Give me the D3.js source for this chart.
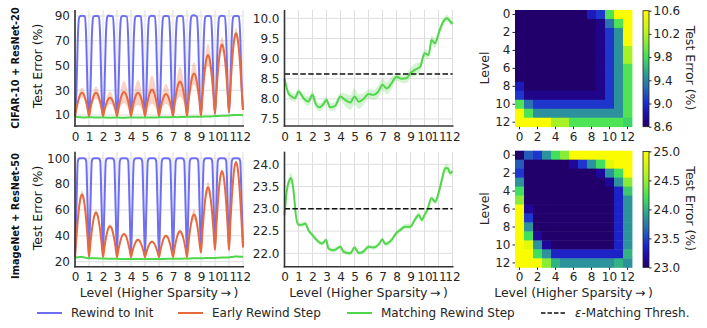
<!DOCTYPE html>
<html>
<head>
<meta charset="utf-8">
<script src="https://cdn.jsdelivr.net/npm/d3@7"></script>
<style>
body { margin: 0; background: #fff; }
text { font-family: "DejaVu Sans", sans-serif; }
</style>
</head>
<body>
<svg id="chart" width="707" height="328"></svg>
<script>
// ---- data ----
var levelTicks = [0, 1, 2, 3, 4, 5, 6, 7, 8, 9, 10, 11, 12];
var heatTicks = [0, 2, 4, 6, 8, 10, 12];

// left column: error along the path between consecutive levels,
// one row per level (alpha = 0, .1, ... .9), the End value closes level 12
var cifarInit = [
	[9, 28, 72, 89, 90, 90.2, 90, 89.5, 72, 28],
	[9, 28, 72, 89, 90, 90, 90, 89.5, 72, 28],
	[9, 28, 72, 89, 90.3, 90, 90, 89.5, 72, 28],
	[9, 28, 72, 89, 90, 90, 89.8, 89.5, 72, 28],
	[9, 28, 72, 89, 90, 90, 90, 89.5, 72, 28],
	[9, 28, 72, 89, 90, 90.2, 90, 89.5, 72, 28],
	[9, 28, 72, 89, 90, 90, 90, 89.5, 72, 28],
	[9, 28, 72, 89, 90, 90, 90, 89.5, 72, 28],
	[9.5, 28, 72, 89, 90.4, 90.6, 90.2, 89.5, 72, 28],
	[10, 30, 72, 89, 90, 90, 90, 89.5, 72, 30],
	[11, 32, 73, 89, 90, 90.2, 90, 89.5, 73, 32],
	[12, 33, 74, 89, 90, 90, 90, 89.5, 74, 34]
];
var cifarInitEnd = 14;

var cifarEarly = [
	[9, 14.9, 20.2, 24.4, 27.1, 28, 27.1, 24.4, 20.2, 14.9],
	[9, 14.9, 20.2, 24.4, 27.1, 28, 27.1, 24.4, 20.2, 14.9],
	[9, 13.7, 17.9, 21.2, 23.3, 24, 23.3, 21.2, 17.9, 13.7],
	[9, 15, 20.5, 24.8, 27.5, 28.5, 27.5, 24.8, 20.5, 15],
	[9, 14.9, 20.2, 24.4, 27.1, 28, 27.1, 24.4, 20.2, 14.9],
	[9, 15.7, 21.7, 26.4, 29.4, 30.5, 29.4, 26.4, 21.7, 15.7],
	[9, 14.6, 19.6, 23.6, 26.1, 27, 26.1, 23.6, 19.6, 14.6],
	[9, 17.7, 25.5, 31.7, 35.6, 37, 35.6, 31.7, 25.5, 17.7],
	[9, 19.7, 29.4, 36.9, 41.8, 43.5, 41.8, 36.9, 29.4, 19.7],
	[9, 24.3, 38.2, 49.1, 56, 58.5, 56, 49.1, 38.2, 24.3],
	[11, 28.4, 44, 56.4, 64.2, 67, 64.2, 56.4, 44, 28.4],
	[12, 31.8, 49.8, 63.8, 72.8, 76, 72.8, 63.8, 49.8, 31.8]
];
var cifarEarlyEnd = 14;
var cifarEarlySpread = [4, 5, 5, 9, 10, 11.5, 8, 12, 9, 9, 6, 4.5];

var imagenetInit = [
	[24, 62, 98, 99.8, 100, 100, 100, 99.8, 98, 62],
	[28, 62, 98, 99.8, 100, 100, 100, 99.8, 98, 62],
	[26, 62, 98, 99.8, 100, 100, 100, 99.8, 98, 62],
	[24.5, 62, 98, 99.8, 100, 100, 100, 99.8, 98, 62],
	[25, 62, 98, 99.8, 100, 100, 100, 99.8, 98, 62],
	[25, 62, 98, 99.8, 100, 100, 100, 99.8, 98, 62],
	[25, 62, 98, 99.8, 100, 100, 100, 99.8, 98, 62],
	[25, 62, 98, 99.8, 100, 100, 100, 99.8, 98, 62],
	[26, 62, 98, 99.8, 100, 100, 100, 99.8, 98, 62],
	[28, 64, 98, 99.8, 100, 100, 100, 99.8, 98, 64],
	[30, 65, 98, 99.8, 100, 100, 100, 99.8, 98, 65],
	[30, 66, 98, 99.8, 100, 100, 100, 99.8, 98, 66]
];
var imagenetInitEnd = 33;

var imagenetEarly = [
	[23.5, 38.5, 52.1, 62.8, 69.6, 72, 69.6, 62.8, 52.1, 38.5],
	[23.5, 34.2, 43.9, 51.4, 56.3, 58, 56.3, 51.4, 43.9, 34.2],
	[23.5, 30.9, 37.7, 42.9, 46.3, 47.5, 46.3, 42.9, 37.7, 30.9],
	[23.5, 29.1, 34.1, 38.1, 40.6, 41.5, 40.6, 38.1, 34.1, 29.1],
	[23.5, 27.7, 31.5, 34.4, 36.3, 37, 36.3, 34.4, 31.5, 27.7],
	[23.5, 27.2, 30.6, 33.2, 34.9, 35.5, 34.9, 33.2, 30.6, 27.2],
	[23.5, 28.6, 33.2, 36.9, 39.2, 40, 39.2, 36.9, 33.2, 28.6],
	[23.5, 29.7, 35.3, 39.7, 42.5, 43.5, 42.5, 39.7, 35.3, 29.7],
	[23.5, 33.7, 43, 50.2, 54.9, 56.5, 54.9, 50.2, 43, 33.7],
	[27, 42.7, 56.8, 67.9, 75, 77.5, 75, 67.9, 56.8, 42.7],
	[29, 47.9, 65, 78.4, 87, 90, 87, 78.4, 65, 47.9],
	[29, 50.1, 69.1, 84.1, 93.6, 97, 93.6, 84.1, 69.1, 50.1]
];
var imagenetEarlyEnd = 31;
var imagenetEarlySpread = [3, 2, 1.5, 1, 1, 1, 1, 1.5, 4, 4.5, 1.5, 1.5];

// middle column: matching rewind step (also drawn in the left column)
var cifarMatchX = [0, 0.28, 0.5, 0.75, 1, 1.35, 1.7, 2, 2.2, 2.5, 2.9, 3, 3.25, 3.6, 4, 4.3, 4.7, 5, 5.3, 5.6,
	6, 6.35, 6.7, 7, 7.3, 7.65, 8, 8.35, 8.7, 9, 9.3, 9.7, 10, 10.3, 10.5, 10.75, 11.05, 11.35, 11.6, 11.75, 12];
var cifarMatchY = [8.51, 8.14, 8.06, 8.02, 8.18, 8.02, 7.93, 8.1, 7.9, 7.79, 7.93, 7.98, 7.79, 7.82, 8.06, 7.98, 7.91, 8.06, 7.93, 7.98,
	8.12, 8.1, 8.18, 8.35, 8.26, 8.39, 8.55, 8.5, 8.51, 8.64, 8.72, 8.8, 9.13, 9.09, 9.46, 9.38, 9.67, 9.92, 10.0, 9.96, 9.86];
var cifarMatchSpread = [0.05, 0.08, 0.1, 0.1, 0.08, 0.1, 0.12, 0.1, 0.12, 0.1, 0.1, 0.08, 0.1, 0.1, 0.1, 0.15, 0.18, 0.2, 0.18, 0.15,
	0.12, 0.12, 0.15, 0.15, 0.15, 0.15, 0.1, 0.1, 0.12, 0.12, 0.15, 0.12, 0.1, 0.1, 0.12, 0.12, 0.1, 0.08, 0.08, 0.08, 0.06];
var cifarThresh = 8.62;

var imagenetMatchX = [0, 0.17, 0.36, 0.48, 0.64, 0.83, 1, 1.24, 1.48, 1.71, 2, 2.3, 2.67, 2.98, 3.14, 3.5, 4, 4.2, 4.7, 5,
	5.3, 5.64, 6, 6.36, 6.7, 7, 7.2, 7.67, 8, 8.26, 8.6, 9, 9.3, 9.6, 9.8, 10, 10.2, 10.5, 10.76, 11, 11.24, 11.48, 11.67, 11.83, 12];
var imagenetMatchY = [22.86, 23.42, 23.65, 23.69, 23.42, 22.82, 22.64, 22.64, 22.67, 22.52, 22.41, 22.3, 22.22, 22.3, 22.11, 22.07, 22.15, 22.04, 22.0, 22.13,
	22.01, 22.04, 22.15, 22.13, 22.19, 22.31, 22.21, 22.31, 22.46, 22.52, 22.6, 22.6, 22.75, 22.86, 22.75, 22.86, 22.97, 23.24, 23.16, 23.35, 23.65, 23.91, 23.91, 23.8, 23.84];
var imagenetMatchSpread = [0.05, 0.08, 0.12, 0.12, 0.1, 0.06, 0.05, 0.05, 0.05, 0.05, 0.05, 0.05, 0.05, 0.05, 0.05, 0.05, 0.05, 0.05, 0.05, 0.05,
	0.05, 0.05, 0.05, 0.05, 0.05, 0.05, 0.05, 0.06, 0.06, 0.06, 0.06, 0.06, 0.06, 0.08, 0.06, 0.06, 0.06, 0.06, 0.06, 0.08, 0.08, 0.1, 0.1, 0.08, 0.06];
var imagenetThresh = 23.0;

// right column: test error between levels (row level x column level)
var cifarHeat = [
	[8.6, 8.6, 8.6, 8.6, 8.6, 8.6, 8.6, 8.6, 8.9, 9.05, 9.85, 10.6, 10.6],
	[8.6, 8.6, 8.6, 8.6, 8.6, 8.6, 8.6, 8.6, 8.6, 8.7, 9.3, 9.85, 10.6],
	[8.6, 8.6, 8.6, 8.6, 8.6, 8.6, 8.6, 8.6, 8.6, 8.7, 9.05, 9.45, 10.6],
	[8.6, 8.6, 8.6, 8.6, 8.6, 8.6, 8.6, 8.6, 8.6, 8.7, 9.05, 9.45, 10.6],
	[8.6, 8.6, 8.6, 8.6, 8.6, 8.6, 8.6, 8.6, 8.6, 8.7, 9.05, 9.45, 10.15],
	[8.6, 8.6, 8.6, 8.6, 8.6, 8.6, 8.6, 8.6, 8.6, 8.7, 9.05, 9.45, 10.15],
	[8.6, 8.6, 8.6, 8.6, 8.6, 8.6, 8.6, 8.6, 8.6, 8.7, 9.05, 9.45, 9.85],
	[8.6, 8.6, 8.6, 8.6, 8.6, 8.6, 8.6, 8.6, 8.6, 8.7, 9.05, 9.45, 9.85],
	[8.9, 8.6, 8.6, 8.6, 8.6, 8.6, 8.6, 8.6, 8.6, 8.7, 9.05, 9.45, 9.85],
	[9.05, 8.7, 8.7, 8.7, 8.7, 8.7, 8.7, 8.7, 8.7, 8.7, 9.05, 9.45, 9.85],
	[9.85, 9.3, 9.05, 9.05, 9.05, 9.05, 9.05, 9.05, 9.05, 9.05, 9.05, 9.45, 9.85],
	[10.6, 9.85, 9.45, 9.45, 9.45, 9.45, 9.45, 9.45, 9.45, 9.45, 9.45, 9.45, 9.85],
	[10.6, 10.6, 10.6, 10.6, 10.15, 10.15, 9.85, 9.85, 9.85, 9.85, 9.85, 9.85, 9.75]
];
var cifarHeatDomain = [8.6, 10.6];
var cifarBarTicks = [8.6, 9.0, 9.4, 9.8, 10.2, 10.6];

var imagenetHeat = [
	[23, 23.6, 23.45, 23.85, 24.2, 24.45, 25, 25, 25, 25, 25, 25, 25],
	[23.6, 23, 23, 23, 23, 23, 23.15, 23.45, 23.85, 24.2, 24.85, 25, 25],
	[23.45, 23, 23, 23, 23, 23, 23, 23, 23, 23.15, 23.85, 24.2, 25],
	[23.85, 23, 23, 23, 23, 23, 23, 23, 23, 23, 23.15, 23.85, 24.45],
	[24.2, 23, 23, 23, 23, 23, 23, 23, 23, 23, 23, 23.35, 24.1],
	[24.45, 23, 23, 23, 23, 23, 23, 23, 23, 23, 23, 23.35, 23.85],
	[25, 23.15, 23, 23, 23, 23, 23, 23, 23, 23, 23, 23.35, 23.85],
	[25, 23.45, 23, 23, 23, 23, 23, 23, 23, 23, 23, 23.35, 23.85],
	[25, 23.85, 23, 23, 23, 23, 23, 23, 23, 23, 23, 23.35, 23.85],
	[25, 24.2, 23.15, 23, 23, 23, 23, 23, 23, 23, 23, 23.35, 23.85],
	[25, 24.85, 23.85, 23.15, 23, 23, 23, 23, 23, 23, 23, 23.35, 23.85],
	[25, 25, 24.2, 23.85, 23.35, 23.35, 23.35, 23.35, 23.35, 23.35, 23.35, 23.35, 24.0],
	[25, 25, 25, 24.45, 24.0, 23.85, 23.85, 23.85, 23.85, 23.85, 23.85, 24.0, 23.85]
];
var imagenetHeatDomain = [23, 25];
var imagenetBarTicks = [23.0, 23.5, 24.0, 24.5, 25.0];

// colour map of the heatmaps (position in domain -> colour)
var cmapStops = [0, 0.1, 0.2, 0.35, 0.45, 0.6, 0.8, 1];
var cmapColors = ["#22006b", "#1e0aa8", "#1c2ad0", "#2a72b0", "#2d9c95", "#40e05e", "#b6f41e", "#fcfc00"];

var legendNames = ["Rewind to Init", "Early Rewind Step", "Matching Rewind Step"];

// ---- drawing ----
var colInit = "#6f6ff2", colEarly = "#e8693d", colMatch = "#4fd64a";
var svg = d3.select("#chart");
var rowBox = [{top: 10, bottom: 126}, {top: 151.7, bottom: 266.7}];
var leftX = d3.scaleLinear().domain([0, 12]).range([75, 243]);
var midX = d3.scaleLinear().domain([0, 12]).range([284.5, 452.5]);

function segPoints(rows, end, spread) {
	var pts = [];
	rows.forEach(function(row, k) {
		var lo = d3.min(row), hi = d3.max(row);
		row.forEach(function(v, i) {
			var hw = spread ? spread[k] * (v - lo) / (hi - lo) : 0;
			pts.push({x: k + i / 10, y: v, lo: v - hw, hi: v + hw});
		});
	});
	pts.push({x: rows.length, y: end, lo: end, hi: end});
	return pts;
}

function xyPoints(xs, ys, spread) {
	return xs.map(function(x, i) {
		return {x: x, y: ys[i], lo: ys[i] - spread[i], hi: ys[i] + spread[i]};
	});
}

function styleAxis(g) {
	g.attr("font-size", 12).attr("font-family", "DejaVu Sans, sans-serif").style("color", "#262626");
	g.select(".domain").remove();
}

function panel(x, box, domain, yTicks, fmt, showX) {
	var y = d3.scaleLinear().domain(domain).range([box.bottom, box.top]);
	var g = svg.append("g");
	g.selectAll(".vg").data(levelTicks).enter().append("line")
		.attr("x1", function(d) { return x(d); }).attr("x2", function(d) { return x(d); })
		.attr("y1", box.top).attr("y2", box.bottom)
		.attr("stroke", "#dedede").attr("stroke-width", 1);
	g.selectAll(".hg").data(yTicks).enter().append("line")
		.attr("x1", x(0)).attr("x2", x(12))
		.attr("y1", function(d) { return y(d); }).attr("y2", function(d) { return y(d); })
		.attr("stroke", "#dedede").attr("stroke-width", 1);
	svg.append("g").attr("transform", "translate(" + x(0) + ",0)")
		.call(d3.axisLeft(y).tickValues(yTicks).tickSize(0).tickPadding(5).tickFormat(fmt))
		.call(styleAxis);
	svg.append("g").attr("transform", "translate(0," + box.bottom + ")")
		.call(d3.axisBottom(x).tickValues(levelTicks).tickSize(0).tickPadding(6))
		.call(styleAxis);
	return y;
}

function frame(x, box) {
	svg.append("line").attr("x1", x(0)).attr("x2", x(0)).attr("y1", box.top).attr("y2", box.bottom + 0.8)
		.attr("stroke", "#333").attr("stroke-width", 1.6);
	svg.append("line").attr("x1", x(0) - 0.8).attr("x2", x(12) + 1).attr("y1", box.bottom).attr("y2", box.bottom)
		.attr("stroke", "#333").attr("stroke-width", 1.6);
}

function drawSeries(x, y, pts, color, bandColor) {
	if (bandColor) {
		svg.append("path").datum(pts)
			.attr("d", d3.area().x(function(d) { return x(d.x); })
				.y0(function(d) { return y(d.lo); }).y1(function(d) { return y(d.hi); })
				.curve(d3.curveMonotoneX))
			.attr("fill", bandColor);
	}
	svg.append("path").datum(pts)
		.attr("d", d3.line().x(function(d) { return x(d.x); }).y(function(d) { return y(d.y); })
			.curve(d3.curveMonotoneX))
		.attr("fill", "none").attr("stroke", color).attr("stroke-width", 2)
		.attr("stroke-linejoin", "round");
}

function dashed(x, y, v) {
	svg.append("line").attr("x1", x(0)).attr("x2", x(12)).attr("y1", y(v)).attr("y2", y(v))
		.attr("stroke", "#111").attr("stroke-width", 1.5).attr("stroke-dasharray", "5.5,2.4");
}

// left column
var ya = panel(leftX, rowBox[0], [1.1, 94.8], [10, 30, 50, 70, 90], d3.format("d"));
drawSeries(leftX, ya, segPoints(cifarInit, cifarInitEnd), colInit);
drawSeries(leftX, ya, segPoints(cifarEarly, cifarEarlyEnd, cifarEarlySpread), colEarly, "rgba(240,140,105,0.38)");
drawSeries(leftX, ya, xyPoints(cifarMatchX, cifarMatchY, cifarMatchSpread), colMatch);
frame(leftX, rowBox[0]);

var yc = panel(leftX, rowBox[1], [16.1, 105.1], [20, 40, 60, 80, 100], d3.format("d"));
drawSeries(leftX, yc, segPoints(imagenetInit, imagenetInitEnd), colInit);
drawSeries(leftX, yc, segPoints(imagenetEarly, imagenetEarlyEnd, imagenetEarlySpread), colEarly, "rgba(240,140,105,0.38)");
drawSeries(leftX, yc, xyPoints(imagenetMatchX, imagenetMatchY, imagenetMatchSpread), colMatch);
frame(leftX, rowBox[1]);

// middle column
var yb = panel(midX, rowBox[0], [7.326, 10.206], [7.5, 8.0, 8.5, 9.0, 9.5, 10.0], d3.format(".1f"));
drawSeries(midX, yb, xyPoints(cifarMatchX, cifarMatchY, cifarMatchSpread), colMatch, "rgba(120,220,110,0.3)");
dashed(midX, yb, cifarThresh);
frame(midX, rowBox[0]);

var yd = panel(midX, rowBox[1], [21.7, 24.283], [22.0, 22.5, 23.0, 23.5, 24.0], d3.format(".1f"));
drawSeries(midX, yd, xyPoints(imagenetMatchX, imagenetMatchY, imagenetMatchSpread), colMatch, "rgba(120,220,110,0.3)");
dashed(midX, yd, imagenetThresh);
frame(midX, rowBox[1]);

// right column
var defs = svg.append("defs");
function heat(matrix, top, domain, barTicks, id) {
	var hx = d3.scaleBand().domain(d3.range(13)).range([515, 632]);
	var hy = d3.scaleBand().domain(d3.range(13)).range([top, top + 116.7]);
	var color = d3.scaleLinear()
		.domain(cmapStops.map(function(s) { return domain[0] + s * (domain[1] - domain[0]); }))
		.range(cmapColors).clamp(true);
	var cells = [];
	matrix.forEach(function(row, r) { row.forEach(function(v, c) { cells.push({r: r, c: c, v: v}); }); });
	svg.append("g").selectAll("rect").data(cells).enter().append("rect")
		.attr("x", function(d) { return hx(d.c); }).attr("y", function(d) { return hy(d.r); })
		.attr("width", hx.bandwidth() + 0.4).attr("height", hy.bandwidth() + 0.4)
		.attr("fill", function(d) { return color(d.v); });
	svg.append("g").attr("transform", "translate(515,0)")
		.call(d3.axisLeft(hy).tickValues(heatTicks).tickSize(2.5).tickPadding(2))
		.call(styleAxis);
	svg.append("g").attr("transform", "translate(0," + (top + 116.7) + ")")
		.call(d3.axisBottom(hx).tickValues(heatTicks).tickSize(2.5).tickPadding(3))
		.call(styleAxis);
	svg.append("text").attr("transform", "translate(489," + (top + 58) + ") rotate(-90)")
		.attr("text-anchor", "middle").attr("font-size", 12.5).attr("fill", "#262626").text("Level");

	// colour bar
	var grad = defs.append("linearGradient").attr("id", id)
		.attr("x1", 0).attr("y1", 1).attr("x2", 0).attr("y2", 0);
	cmapStops.forEach(function(s, i) {
		grad.append("stop").attr("offset", s).attr("stop-color", cmapColors[i]);
	});
	var cb = d3.scaleLinear().domain(domain).range([top + 116.7, top + 0.7]);
	svg.append("rect").attr("x", 643).attr("y", top + 0.7).attr("width", 6).attr("height", 116)
		.attr("fill", "url(#" + id + ")").attr("stroke", "#222").attr("stroke-width", 0.8);
	svg.append("g").attr("transform", "translate(649,0)")
		.call(d3.axisRight(cb).tickValues(barTicks).tickSize(2.5).tickPadding(2).tickFormat(d3.format(".1f")))
		.call(styleAxis);
	svg.append("text").attr("transform", "translate(686," + (top + 58) + ") rotate(90)")
		.attr("text-anchor", "middle").attr("font-size", 12.5).attr("fill", "#262626").text("Test Error (%)");
}
heat(cifarHeat, 10, cifarHeatDomain, cifarBarTicks, "cbTop");
heat(imagenetHeat, 150.7, imagenetHeatDomain, imagenetBarTicks, "cbBottom");

// labels
function vtext(x, y, s, size, weight) {
	svg.append("text").attr("transform", "translate(" + x + "," + y + ") rotate(-90)")
		.attr("text-anchor", "middle").attr("font-size", size).attr("font-weight", weight || "normal")
		.attr("fill", "#111").text(s);
}
vtext(19, 68, "CIFAR-10 + ResNet-20", 9.8, "bold");
vtext(19, 216, "ImageNet + ResNet-50", 9.8, "bold");
vtext(42, 66, "Test Error (%)", 12.5);
vtext(42, 208, "Test Error (%)", 12.5);

[159, 368.5, 573.5].forEach(function(cx) {
	svg.append("text").attr("x", cx).attr("y", 297).attr("text-anchor", "middle")
		.attr("font-size", 12.5).attr("fill", "#262626").text("Level (Higher Sparsity\u2009\u2192\u2009)");
});

// legend
var legY = 313;
var legLine = [37, 178, 347];
var legCols = [colInit, colEarly, colMatch];
legendNames.forEach(function(name, i) {
	svg.append("line").attr("x1", legLine[i]).attr("x2", legLine[i] + 25).attr("y1", legY).attr("y2", legY)
		.attr("stroke", legCols[i]).attr("stroke-width", 2);
	svg.append("text").attr("x", legLine[i] + 34).attr("y", legY).attr("dy", "0.35em")
		.attr("font-size", 12).attr("fill", "#262626").text(name);
});
svg.append("line").attr("x1", 541).attr("x2", 566).attr("y1", legY).attr("y2", legY)
	.attr("stroke", "#111").attr("stroke-width", 1.5).attr("stroke-dasharray", "4.5,2");
var lt = svg.append("text").attr("x", 575).attr("y", legY).attr("dy", "0.35em")
	.attr("font-size", 12).attr("fill", "#262626");
lt.append("tspan").attr("font-style", "italic").text("\u03b5");
lt.append("tspan").text("-Matching Thresh.");
</script>
</body>
</html>
